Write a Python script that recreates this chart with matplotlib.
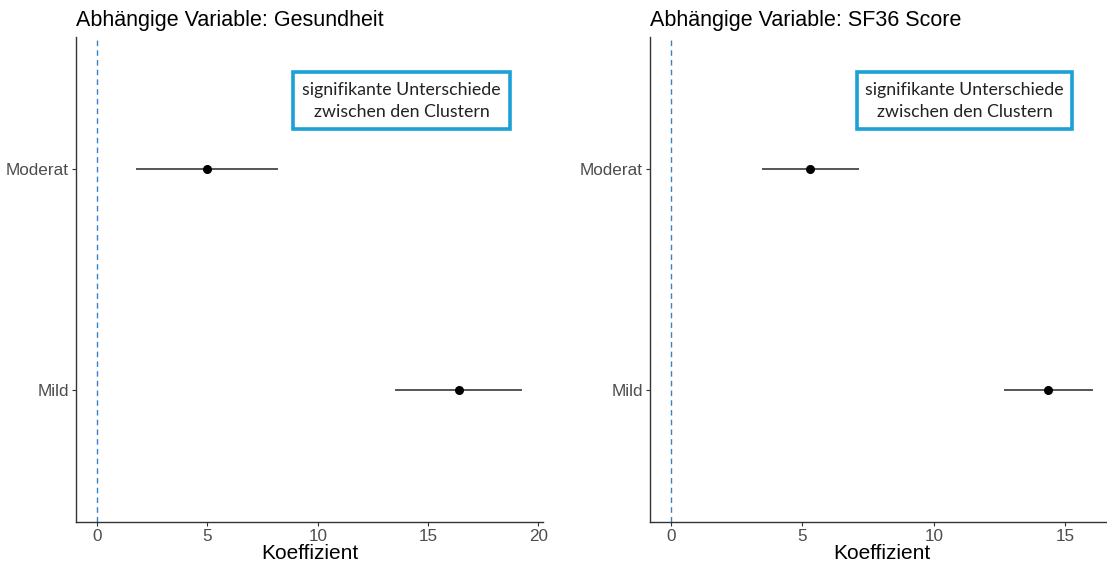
import matplotlib
matplotlib.use("Agg")
import matplotlib.pyplot as plt
from matplotlib.patches import FancyBboxPatch

plt.rcParams["font.family"] = ["Liberation Sans", "DejaVu Sans"]

# cluster coefficients (reference: Schwer)
categories = ["Mild", "Moderat"]

gesund_est = [16.4, 5.0]
gesund_lo = [13.5, 1.75]
gesund_hi = [19.25, 8.2]

sf36_est = [14.35, 5.3]
sf36_lo = [12.65, 3.45]
sf36_hi = [16.05, 7.15]

titles = ["Abhängige Variable: Gesundheit", "Abhängige Variable: SF36 Score"]
xticks = [0, 5, 10, 15, 20]
note = "signifikante Unterschiede\nzwischen den Clustern"

W, H, DPI = 1107, 565, 100
fig = plt.figure(figsize=(W / DPI, H / DPI), dpi=DPI)

# panel boxes in pixels (left, right) - right panel is cut off by the figure edge
panels = [(76, 543), (650, 1114)]
top, bottom = 37, 522
note_boxes = [(293, 510), (857, 1072)]

series = [(gesund_est, gesund_lo, gesund_hi), (sf36_est, sf36_lo, sf36_hi)]

for (x0, x1), (est, lo, hi), title, (bx0, bx1) in zip(panels, series, titles, note_boxes):
    ax = fig.add_axes([x0 / W, 1 - bottom / H, (x1 - x0) / W, (bottom - top) / H])
    y = list(range(1, len(categories) + 1))

    ax.axvline(0, color="#3A82C4", linestyle=(0, (4, 3)), linewidth=1.0, zorder=1)
    ax.hlines(y, lo, hi, color="#555555", linewidth=1.4, zorder=2)
    ax.plot(est, y, "o", color="black", markersize=5.5, zorder=3)

    # ggplot-like expansion
    xmin, xmax = min(0, min(lo)), max(0, max(hi))
    pad = 0.05 * (xmax - xmin)
    ax.set_xlim(xmin - pad, xmax + pad)
    ax.set_ylim(0.4, len(categories) + 0.6)
    ax.set_xticks([t for t in xticks if xmin - pad <= t <= xmax + pad])
    ax.set_yticks(y)
    ax.set_yticklabels(categories)

    for s in ["top", "right"]:
        ax.spines[s].set_visible(False)
    for s in ["left", "bottom"]:
        ax.spines[s].set_color("#333333")
        ax.spines[s].set_linewidth(1.0)
    ax.tick_params(axis="both", length=3, width=0.8, color="#333333",
                   labelcolor="#4D4D4D", labelsize=12.3, pad=2)

    ax.set_xlabel("Koeffizient", fontsize=15, color="black", labelpad=0)
    ax.set_title(title, loc="left", fontsize=15.5, color="black", pad=8)

    # boxed note (added on top of the panel)
    fig.patches.append(FancyBboxPatch(
        (bx0 / W, 1 - 129 / H), (bx1 - bx0) / W, 57 / H,
        boxstyle="square,pad=0", transform=fig.transFigure,
        facecolor="white", edgecolor="#1BA1D5", linewidth=2.6, zorder=5))
    fig.text((bx0 + bx1) / 2 / W, 1 - 101 / H, note, ha="center", va="center",
             fontsize=12.8, family=["Lato", "DejaVu Sans"], color="#222222",
             linespacing=1.45, zorder=6)

fig.savefig("out.png", dpi=DPI)
